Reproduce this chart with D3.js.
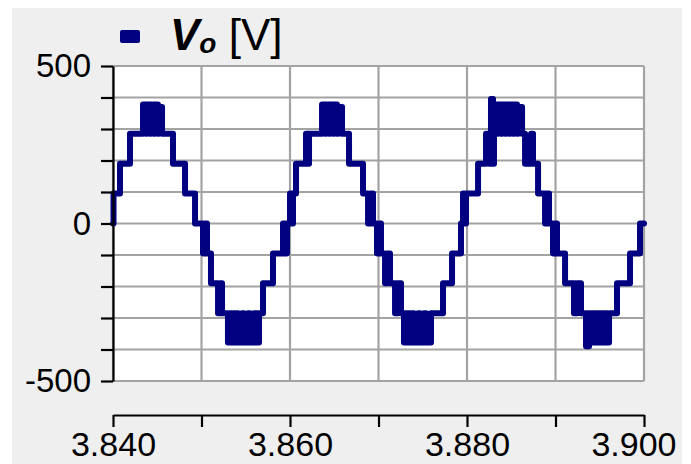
<!DOCTYPE html>
<html>
<head>
<meta charset="utf-8">
<script src="https://cdn.jsdelivr.net/npm/d3@7"></script>
<style>
  html, body { margin: 0; padding: 0; background: #ffffff; }
  svg { display: block; font-family: "Liberation Sans", Arial, sans-serif; }
</style>
</head>
<body>
<svg id="chart" width="691" height="464"></svg>
<script>
// ---- data ----
const seriesName = "V";
const seriesSub = "o";
const seriesUnit = " [V]";

// switching instants (s) and the output voltage level from that instant on (V)
const timeS = [
  3.84000, 3.84006, 3.84079, 3.84192, 3.84339, 3.84373, 3.84384, 3.84418, 3.84429, 3.84463,
  3.84475, 3.84508, 3.84520, 3.84554, 3.84678, 3.84814, 3.84927, 3.85017, 3.85040, 3.85062,
  3.85107, 3.85187, 3.85209, 3.85232, 3.85299, 3.85333, 3.85356, 3.85390, 3.85413, 3.85458,
  3.85480, 3.85526, 3.85548, 3.85593, 3.85616, 3.85650, 3.85695, 3.85808, 3.85921, 3.85944,
  3.85966, 3.86000, 3.86023, 3.86034, 3.86068, 3.86181, 3.86204, 3.86215, 3.86362, 3.86396,
  3.86407, 3.86441, 3.86452, 3.86486, 3.86497, 3.86531, 3.86543, 3.86588, 3.86667, 3.86825,
  3.86882, 3.86915, 3.86938, 3.86983, 3.87006, 3.87028, 3.87074, 3.87096, 3.87130, 3.87187,
  3.87221, 3.87254, 3.87288, 3.87322, 3.87345, 3.87379, 3.87401, 3.87447, 3.87469, 3.87514,
  3.87537, 3.87593, 3.87729, 3.87831, 3.87932, 3.87955, 3.87966, 3.87989, 3.88125, 3.88215,
  3.88249, 3.88271, 3.88294, 3.88305, 3.88339, 3.88351, 3.88384, 3.88396, 3.88430, 3.88441,
  3.88475, 3.88486, 3.88520, 3.88532, 3.88565, 3.88577, 3.88622, 3.88656, 3.88724, 3.88746,
  3.88803, 3.88882, 3.88904, 3.88927, 3.88972, 3.88995, 3.89017, 3.89108, 3.89209, 3.89243,
  3.89288, 3.89345, 3.89379, 3.89401, 3.89435, 3.89458, 3.89492, 3.89514, 3.89548, 3.89571,
  3.89605, 3.89695, 3.89842, 3.89955, 3.90000
];
const voltage = [
     0,   95,  190,  285,  378,  285,  378,  285,  378,  285,
   378,  285,  370,  285,  190,   95,    0,  -95,    0,  -95,
  -190, -285, -190, -285, -378, -285, -378, -285, -378, -285,
  -378, -285, -378, -285, -378, -285, -190,  -95,    0,  -95,
     0,   95,    0,   95,  190,  285,  190,  285,  378,  285,
   378,  285,  378,  285,  378,  285,  370,  285,  190,   95,
     0,   95,    0,  -95,    0,  -95, -190,  -95, -190, -285,
  -190, -285, -378, -285, -378, -285, -378, -285, -378, -285,
  -378, -285, -190,  -95,    0,   95,    0,   95,  190,  285,
   190,  395,  190,  378,  285,  378,  285,  378,  285,  378,
   285,  378,  285,  378,  285,  370,  285,  190,  285,  190,
    95,    0,   95,    0,  -95,    0,  -95, -190, -285, -190,
  -285, -390, -285, -378, -285, -378, -285, -378, -285, -378,
  -285, -190,  -95,    0,    0
];

const yTickValues = [-500, -400, -300, -200, -100, 0, 100, 200, 300, 400, 500];
const yLabelValues = [500, 0, -500];
const xTickValues = [3.84, 3.85, 3.86, 3.87, 3.88, 3.89, 3.90];
const xLabelValues = [3.84, 3.86, 3.88, 3.90];

// ---- layout ----
const W = 691, H = 464;
const plot = { left: 113, right: 644, top: 66, bottom: 381 };
const xAxisY = 415;
const navy = "#000080";
const gridColor = "#a3a3a3";

const svg = d3.select("#chart");

// outer panel
svg.append("rect").attr("x", 0).attr("y", 0).attr("width", W).attr("height", H).attr("fill", "#ffffff");
svg.append("rect").attr("x", 12).attr("y", 8).attr("width", 670).attr("height", H - 8).attr("fill", "#efefef");

const x = d3.scaleLinear().domain([3.84, 3.90]).range([plot.left, plot.right]);
const y = d3.scaleLinear().domain([-500, 500]).range([plot.bottom, plot.top]);

// plot background
svg.append("rect")
  .attr("x", plot.left).attr("y", plot.top)
  .attr("width", plot.right - plot.left).attr("height", plot.bottom - plot.top)
  .attr("fill", "#ffffff");

// grid
const grid = svg.append("g").attr("stroke", gridColor).attr("stroke-width", 2.2);
grid.selectAll("line.h").data(yTickValues).join("line")
  .attr("x1", plot.left).attr("x2", plot.right)
  .attr("y1", d => y(d)).attr("y2", d => y(d));
grid.selectAll("line.v").data(xTickValues).join("line")
  .attr("y1", plot.top).attr("y2", plot.bottom)
  .attr("x1", d => x(d)).attr("x2", d => x(d));

// series line
const pts = timeS.map((t, i) => [t, voltage[i]]);
const line = d3.line()
  .x(d => x(d[0]))
  .y(d => y(d[1]))
  .curve(d3.curveStepAfter);
svg.append("path")
  .datum(pts)
  .attr("d", line)
  .attr("fill", "none")
  .attr("stroke", navy)
  .attr("stroke-width", 6)
  .attr("stroke-linejoin", "round")
  .attr("stroke-linecap", "round");

// y axis
const yAxis = d3.axisLeft(y)
  .tickValues(yTickValues)
  .tickSize(12)
  .tickSizeOuter(0)
  .tickPadding(10)
  .tickFormat(d => yLabelValues.includes(d) ? d3.format("d")(d).replace("\u2212", "-") : "");
const gy = svg.append("g").attr("transform", `translate(${plot.left},0)`).call(yAxis);
gy.selectAll("path.domain").attr("stroke", "#000").attr("stroke-width", 2.2);
gy.selectAll(".tick line").attr("stroke", "#000").attr("stroke-width", 2.2);
gy.selectAll(".tick text").attr("fill", "#000").attr("font-size", 33)
  .attr("font-family", "'Liberation Sans', Arial, sans-serif");

// x axis
const xAxis = d3.axisBottom(x)
  .tickValues(xTickValues)
  .tickSize(12)
  .tickSizeOuter(0)
  .tickPadding(5)
  .tickFormat(d => xLabelValues.some(v => Math.abs(v - d) < 1e-9) ? d3.format(".3f")(d) : "");
const gx = svg.append("g").attr("transform", `translate(0,${xAxisY})`).call(xAxis);
gx.selectAll("path.domain").attr("stroke", "#000").attr("stroke-width", 2.2);
gx.selectAll(".tick line").attr("stroke", "#000").attr("stroke-width", 2.2);
gx.selectAll(".tick text").attr("fill", "#000").attr("font-size", 34)
  .attr("font-family", "'Liberation Sans', Arial, sans-serif");
// keep last label inside the panel
gx.selectAll(".tick text").filter(d => Math.abs(d - 3.90) < 1e-9)
  .attr("text-anchor", "end").attr("x", 676 - x(3.90) + 0);

// legend
svg.append("rect")
  .attr("x", 120).attr("y", 30).attr("width", 20).attr("height", 13).attr("rx", 2)
  .attr("fill", navy);
const lt = svg.append("text")
  .attr("x", 170).attr("y", 50)
  .attr("font-size", 44).attr("fill", "#000");
lt.append("tspan").attr("font-weight", "bold").attr("font-style", "italic").text(seriesName);
lt.append("tspan").attr("font-weight", "bold").attr("font-style", "italic")
  .attr("font-size", 28).attr("dy", 3).text(seriesSub);
lt.append("tspan").attr("dy", -3).text(seriesUnit);
</script>
</body>
</html>
